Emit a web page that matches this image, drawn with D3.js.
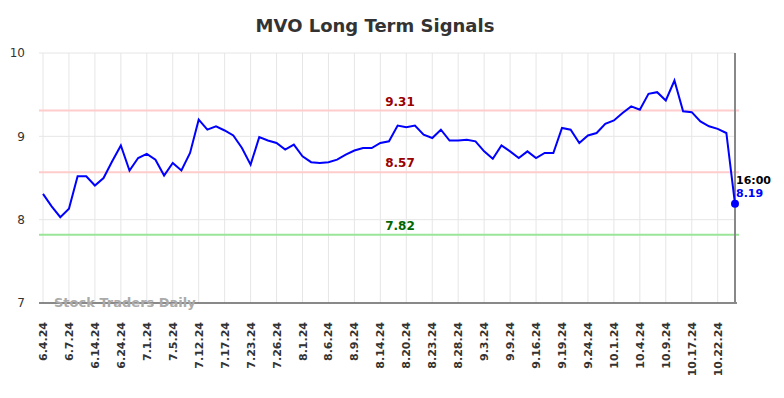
<!DOCTYPE html>
<html>
<head>
<meta charset="utf-8">
<script src="https://cdn.jsdelivr.net/npm/d3@7"></script>
<style>
  body { margin: 0; background: #fff; }
  text { font-family: "DejaVu Sans", sans-serif; }
</style>
</head>
<body>
<svg id="chart" width="784" height="398"></svg>
<script>
// tick labels, one every 3 points
var tickLabels = ["6.4.24", "6.7.24", "6.14.24", "6.24.24", "7.1.24", "7.5.24", "7.12.24",
    "7.17.24", "7.23.24", "7.26.24", "8.1.24", "8.6.24", "8.9.24", "8.14.24", "8.20.24",
    "8.23.24", "8.28.24", "9.3.24", "9.9.24", "9.16.24", "9.19.24", "9.24.24", "10.1.24",
    "10.4.24", "10.9.24", "10.17.24", "10.22.24"];
var tickStep = 3;

var values = [8.31, 8.16, 8.03, 8.13, 8.52, 8.52, 8.41, 8.50, 8.70, 8.89,
    8.59, 8.74, 8.79, 8.72, 8.53, 8.68, 8.59, 8.80, 9.20, 9.08,
    9.12, 9.07, 9.01, 8.86, 8.66, 8.99, 8.95, 8.92, 8.84, 8.90,
    8.76, 8.69, 8.68, 8.69, 8.72, 8.78, 8.83, 8.86, 8.86, 8.92,
    8.94, 9.13, 9.11, 9.13, 9.02, 8.98, 9.08, 8.95, 8.95, 8.96,
    8.94, 8.82, 8.73, 8.89, 8.82, 8.74, 8.82, 8.74, 8.80, 8.80,
    9.10, 9.08, 8.92, 9.01, 9.04, 9.15, 9.19, 9.28, 9.36, 9.32,
    9.51, 9.53, 9.43, 9.67, 9.30, 9.29, 9.18, 9.12, 9.09, 9.04,
    8.19];

var yTicks = [7, 8, 9, 10];
var signals = [
    { value: 9.31, line: "#ffcccc", text: "#990000" },
    { value: 8.57, line: "#ffcccc", text: "#990000" },
    { value: 7.82, line: "#99e699", text: "#006600" }
];
var lastTime = "16:00";

var svg = d3.select("#chart");

var x = d3.scaleLinear().domain([0, values.length - 1]).range([43, 735]),
    y = d3.scaleLinear().domain([7, 10]).range([303, 53]);

svg.append("text")
   .attr("x", 375)
   .attr("y", 32)
   .attr("text-anchor", "middle")
   .attr("font-size", "18px")
   .attr("font-weight", "bold")
   .attr("fill", "#333")
   .text("MVO Long Term Signals");

// grid
var tickIdx = tickLabels.map(function(d, i) { return i * tickStep; });

svg.append("g")
   .selectAll("line")
   .data(tickIdx)
   .enter().append("line")
   .attr("x1", function(d) { return x(d); })
   .attr("x2", function(d) { return x(d); })
   .attr("y1", y(10))
   .attr("y2", y(7))
   .attr("stroke", "#e6e6e6")
   .attr("stroke-width", 1);

svg.append("g")
   .selectAll("line")
   .data(yTicks)
   .enter().append("line")
   .attr("x1", 39)
   .attr("x2", 735)
   .attr("y1", function(d) { return y(d); })
   .attr("y2", function(d) { return y(d); })
   .attr("stroke", "#e6e6e6")
   .attr("stroke-width", 1);

// y labels
svg.append("g")
   .selectAll("text")
   .data(yTicks)
   .enter().append("text")
   .attr("x", 25)
   .attr("y", function(d) { return y(d); })
   .attr("dy", "0.35em")
   .attr("text-anchor", "end")
   .attr("font-size", "12px")
   .attr("fill", "#333")
   .text(function(d) { return d; });

// x labels
svg.append("g")
   .selectAll("text")
   .data(tickLabels)
   .enter().append("text")
   .attr("transform", function(d, i) {
       return "translate(" + (x(i * tickStep) + 4) + ",322) rotate(-90)";
   })
   .attr("text-anchor", "end")
   .attr("font-size", "11px")
   .attr("font-weight", "bold")
   .attr("fill", "#333")
   .text(function(d) { return d; });

// signal lines
signals.forEach(function(s) {
    svg.append("line")
       .attr("x1", 39)
       .attr("x2", 739)
       .attr("y1", y(s.value))
       .attr("y2", y(s.value))
       .attr("stroke", s.line)
       .attr("stroke-width", 2);
    svg.append("text")
       .attr("x", 400)
       .attr("y", y(s.value) - 5)
       .attr("text-anchor", "middle")
       .attr("font-size", "12px")
       .attr("font-weight", "bold")
       .attr("fill", s.text)
       .text(s.value.toFixed(2));
});

// axis lines
svg.append("line")
   .attr("x1", 39).attr("x2", 737)
   .attr("y1", y(7)).attr("y2", y(7))
   .attr("stroke", "#666").attr("stroke-width", 1.5);

svg.append("line")
   .attr("x1", 735).attr("x2", 735)
   .attr("y1", y(10)).attr("y2", y(7))
   .attr("stroke", "#888").attr("stroke-width", 2);

svg.append("text")
   .attr("x", 54)
   .attr("y", 307)
   .attr("font-size", "13px")
   .attr("font-weight", "bold")
   .attr("fill", "#aaa")
   .text("Stock Traders Daily");

// price line
var line = d3.line()
    .x(function(d, i) { return x(i); })
    .y(function(d) { return y(d); });

svg.append("path")
   .datum(values)
   .attr("d", line)
   .attr("fill", "none")
   .attr("stroke", "#0000ff")
   .attr("stroke-width", 2);

var last = values.length - 1;
svg.append("circle")
   .attr("cx", x(last))
   .attr("cy", y(values[last]))
   .attr("r", 4)
   .attr("fill", "#0000ff");

svg.append("text")
   .attr("x", x(last) + 1)
   .attr("y", 184)
   .attr("font-size", "11px")
   .attr("font-weight", "bold")
   .attr("fill", "#000")
   .text(lastTime);

svg.append("text")
   .attr("x", x(last) + 1)
   .attr("y", 197)
   .attr("font-size", "11px")
   .attr("font-weight", "bold")
   .attr("fill", "#0000ff")
   .text(values[last].toFixed(2));
</script>
</body>
</html>
